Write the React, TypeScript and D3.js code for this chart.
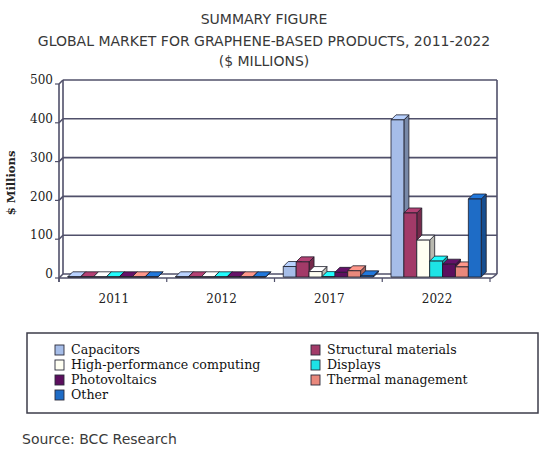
import React from "react";
import * as d3 from "d3";

const categories = ["2011", "2012", "2017", "2022"];
const seriesNames = [
  "Capacitors",
  "Structural materials",
  "High-performance computing",
  "Displays",
  "Photovoltaics",
  "Thermal management",
  "Other",
];
const capacitors = [0.5, 0.5, 27, 405];
const structural = [0.5, 0.5, 39, 165];
const hpc = [0.5, 0.5, 14, 95];
const displays = [0.5, 0.5, 1, 41];
const photovoltaics = [0.5, 0.5, 12, 33];
const thermal = [0.5, 0.5, 16, 26];
const other = [0.5, 0.5, 3, 201];
const yTicks = [0, 100, 200, 300, 400, 500];
const seriesColors = ["#a6bde8", "#a23a68", "#fffff2", "#1de3e6", "#5c0f5e", "#e9887c", "#1e6cc6"];

const seriesValues = [capacitors, structural, hpc, displays, photovoltaics, thermal, other];

const W = 545;
const H = 452;
const D = 4; // wall depth
const BD = 5; // bar depth

export default function App() {
  const xCat = d3.scaleBand<string>().domain(categories).range([59, 490]).paddingInner(0).paddingOuter(0);
  const xSer = d3
    .scaleBand<string>()
    .domain(seriesNames)
    .range([0, xCat.bandwidth()])
    .paddingInner(0)
    .paddingOuter(0.68);
  const yBack = d3.scaleLinear().domain([0, 500]).range([274, 80]);
  const yFront = d3.scaleLinear().domain([0, 500]).range([278, 84]);
  const yBar = d3.scaleLinear().domain([0, 500]).range([277, 83]);

  const gridColor = "#50506a";
  const bars: React.ReactNode[] = [];
  categories.forEach((c, ci) => {
    seriesNames.forEach((s, si) => {
      const v = seriesValues[si][ci];
      const x0 = (xCat(c) ?? 0) + (xSer(s) ?? 0);
      const w = xSer.bandwidth();
      const y0 = yBar(0);
      const y1 = yBar(v);
      const col = d3.color(seriesColors[si])!;
      const side = col.darker(0.9).formatHex();
      const top = col.brighter(0.3).formatHex();
      bars.push(
        <g key={`${ci}-${si}`} stroke="#1d1d2a" strokeWidth={0.8} strokeLinejoin="round">
          <polygon
            points={`${x0 + w},${y0} ${x0 + w + BD},${y0 - BD} ${x0 + w + BD},${y1 - BD} ${x0 + w},${y1}`}
            fill={side}
          />
          <polygon
            points={`${x0},${y1} ${x0 + BD},${y1 - BD} ${x0 + w + BD},${y1 - BD} ${x0 + w},${y1}`}
            fill={top}
          />
          <rect x={x0} y={y1} width={w} height={y0 - y1} fill={seriesColors[si]} />
        </g>
      );
    });
  });

  const left = 59;
  const right = 492;

  return (
    <svg
      width={W}
      height={H}
      viewBox={`0 0 ${W} ${H}`}
      style={{ position: "absolute", left: 0, top: 0, background: "#fff" }}
    >
      <rect x={0} y={0} width={W} height={H} fill="#fff" />
      {/* Title */}
      <g fontFamily="'DejaVu Sans', Verdana, sans-serif" fontSize={14} fill="#383838" textAnchor="middle">
        <text x={264} y={24}>SUMMARY FIGURE</text>
        <text x={264} y={46}>GLOBAL MARKET FOR GRAPHENE-BASED PRODUCTS, 2011-2022</text>
        <text x={264} y={66}>($ MILLIONS)</text>
      </g>

      {/* back wall */}
      <rect x={left + D} y={yBack(500)} width={right + D - left - D} height={yBack(0) - yBack(500)} fill="#fff" />
      {/* gridlines */}
      {yTicks.map((t) => (
        <g key={t} stroke={gridColor} strokeWidth={1.6} fill="none">
          <line x1={left + D} x2={right + D + 1} y1={yBack(t)} y2={yBack(t)} />
          <line x1={left} x2={left + D} y1={yFront(t)} y2={yBack(t)} />
        </g>
      ))}
      {/* walls edges */}
      <g stroke={gridColor} strokeWidth={1.6} fill="none">
        <line x1={left + D} x2={left + D} y1={yBack(500)} y2={yBack(0)} />
        <line x1={left} x2={left} y1={yFront(500)} y2={yFront(0) + 4} />
        <line x1={right + D + 1} x2={right + D + 1} y1={yBack(500)} y2={yBack(0)} />
        <line x1={left} x2={right} y1={yFront(0)} y2={yFront(0)} />
        <line x1={right} x2={right + D + 1} y1={yFront(0)} y2={yBack(0)} />
      </g>
      {/* y ticks */}
      {yTicks.map((t) => (
        <line key={"yt" + t} x1={left - 4} x2={left} y1={yFront(t)} y2={yFront(t)} stroke={gridColor} strokeWidth={1.2} />
      ))}
      {/* x ticks */}
      {[...categories.map((c) => xCat(c) ?? 0), xCat.range()[1]].map((x, i) => (
        <line key={"xt" + i} x1={x} x2={x} y1={yFront(0)} y2={yFront(0) + 4} stroke={gridColor} strokeWidth={1.2} />
      ))}

      {bars}

      {/* y labels */}
      <g fontFamily="'DejaVu Serif', serif" fontSize={12} fill="#222" textAnchor="end">
        {yTicks.map((t) => (
          <text key={"yl" + t} x={53} y={yBack(t)} dy="0.35em">
            {t}
          </text>
        ))}
      </g>
      <text
        transform={`translate(15,183) rotate(-90)`}
        textAnchor="middle"
        fontFamily="'DejaVu Serif', serif"
        fontSize={11.5}
        fontWeight="bold"
        fill="#222"
      >
        $ Millions
      </text>
      {/* x labels */}
      <g fontFamily="'DejaVu Serif', serif" fontSize={12} fill="#222" textAnchor="middle">
        {categories.map((c) => (
          <text key={"xl" + c} x={(xCat(c) ?? 0) + xCat.bandwidth() / 2 + 1} y={303}>
            {c}
          </text>
        ))}
      </g>

      {/* legend */}
      <rect x={27} y={333} width={511} height={80} fill="#fff" stroke="#3c3c4a" strokeWidth={1.5} />
      <g fontFamily="'DejaVu Serif', serif" fontSize={12.6} fill="#111">
        {seriesNames.map((s, i) => {
          const col = i % 2;
          const row = Math.floor(i / 2);
          const x = col === 0 ? 55 : 311;
          const y = 350 + row * 15;
          return (
            <g key={"lg" + s}>
              <rect x={x} y={y - 5} width={9} height={10} fill={seriesColors[i]} stroke="#2a2a3a" strokeWidth={0.9} />
              <text x={x + 16} y={y} dy="0.35em">
                {s}
              </text>
            </g>
          );
        })}
      </g>

      <text x={22} y={444} fontFamily="'DejaVu Sans', Verdana, sans-serif" fontSize={14} fill="#3a3a3a">
        Source: BCC Research
      </text>
    </svg>
  );
}
